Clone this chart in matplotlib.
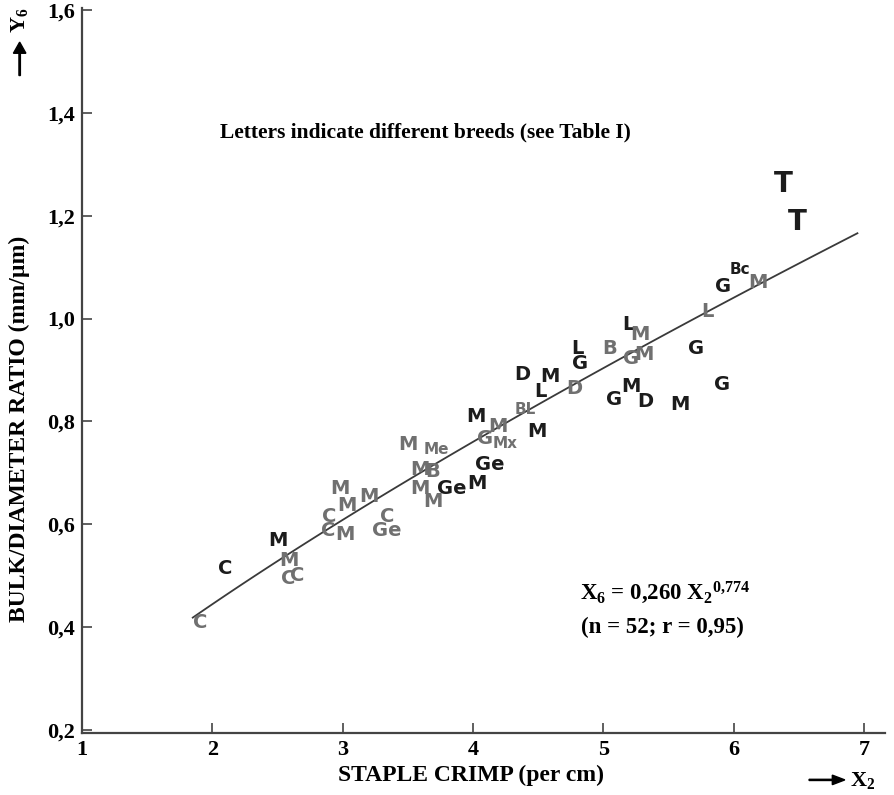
import numpy as np
import matplotlib
matplotlib.use("Agg")
import matplotlib.pyplot as plt

# breed letters: staple crimp (per cm) vs bulk/diameter ratio
labels = ["C", "C", "M", "M", "C", "C", "M", "M", "C", "C", "M", "M", "C", "Ge",
          "M", "Me", "M", "B", "M", "M", "Ge", "M", "Ge", "M", "G", "M", "Mx", "BL",
          "M", "D", "L", "M", "L", "G", "D", "B", "L", "M", "G", "M", "G", "M",
          "D", "M", "G", "G", "L", "G", "Bc", "M", "T", "T"]
crimp = [1.91, 2.10, 2.50, 2.59, 2.58, 2.65, 2.98, 3.03, 2.90, 2.89, 3.02, 3.20, 3.34, 3.34,
         3.50, 3.72, 3.59, 3.69, 3.59, 3.69, 3.84, 4.03, 4.13, 4.02, 4.09, 4.19, 4.25, 4.40,
         4.49, 4.38, 4.52, 4.59, 4.80, 4.82, 4.78, 5.05, 5.19, 5.28, 5.21, 5.31, 5.08, 5.21,
         5.32, 5.59, 5.71, 5.91, 5.80, 5.92, 6.05, 6.19, 6.38, 6.49]
ratio = [0.409, 0.514, 0.568, 0.529, 0.494, 0.500, 0.670, 0.636, 0.616, 0.587, 0.581, 0.655, 0.616, 0.587,
         0.756, 0.746, 0.707, 0.703, 0.669, 0.645, 0.669, 0.680, 0.717, 0.810, 0.767, 0.790, 0.758, 0.823,
         0.781, 0.891, 0.858, 0.887, 0.942, 0.912, 0.864, 0.942, 0.988, 0.969, 0.922, 0.930, 0.843, 0.868,
         0.839, 0.833, 0.942, 0.872, 1.013, 1.062, 1.095, 1.071, 1.261, 1.187]
# 1 = dark pen, 0 = grey pen
dark = [0, 1, 1, 0, 0, 0, 0, 0, 0, 0, 0, 0, 0, 0,
        0, 0, 0, 0, 0, 0, 1, 1, 1, 1, 0, 0, 0, 0,
        1, 1, 1, 1, 1, 1, 0, 0, 1, 0, 0, 0, 1, 1,
        1, 1, 1, 1, 0, 1, 1, 0, 1, 1]

# fitted power curve X6 = a * X2^b
fit_a = 0.260
fit_b = 0.774
fit_x_range = [1.85, 6.95]

x_ticks = [1, 2, 3, 4, 5, 6, 7]
y_ticks = [0.2, 0.4, 0.6, 0.8, 1.0, 1.2, 1.4, 1.6]
y_ticklabels = ["0,2", "0,4", "0,6", "0,8", "1,0", "1,2", "1,4", "1,6"]

serif = "Liberation Serif"
plt.rcParams["mathtext.fontset"] = "custom"
plt.rcParams["mathtext.rm"] = "Liberation Serif:bold"
plt.rcParams["mathtext.it"] = "Liberation Serif:bold"
plt.rcParams["mathtext.bf"] = "Liberation Serif:bold"
ink = "#1c1c1c"
grey = "#707070"

fig = plt.figure(figsize=(8.94, 7.95), dpi=100)
ax = fig.add_axes([0.0917, 0.0785, 0.898, 0.9115])

xs = np.linspace(fit_x_range[0], fit_x_range[1], 100)
ax.plot(xs, fit_a * xs ** fit_b, color="#3a3a3a", lw=1.3)

for lab, x, y, d in zip(labels, crimp, ratio, dark):
    size = 20 if lab == "T" else 14
    if lab in ("Bc", "Me", "Mx", "BL"):
        size = 11
    ax.text(x, y, lab, color=ink if d else grey, fontsize=size,
            fontweight="bold", ha="center", va="center",
            family="DejaVu Sans")

ax.set_xlim(1, 7.16)
ax.set_ylim(0.195, 1.604)
ax.set_xticks(x_ticks)
ax.set_yticks(y_ticks)
ax.set_yticklabels(y_ticklabels)
for spine in ["top", "right"]:
    ax.spines[spine].set_visible(False)
for spine in ["left", "bottom"]:
    ax.spines[spine].set_linewidth(1.6)
    ax.spines[spine].set_color("#444444")
ax.tick_params(direction="in", length=7, width=1.2, color="#444444",
               labelsize=16, pad=5)
for t in ax.get_xticklabels() + ax.get_yticklabels():
    t.set_family(serif)
    t.set_fontweight("bold")

ax.text(2.06, 1.362, "Letters indicate different breeds (see Table I)",
        family=serif, fontweight="bold", fontsize=15.5, va="center", ha="left")
ax.text(4.82, 0.467, r"X$_6$ = 0,260 X$_2$$^{0{,}774}$", family=serif,
        fontweight="bold", fontsize=16.5, va="center", ha="left")
ax.text(4.83, 0.399, "(n = 52; r = 0,95)", family=serif,
        fontweight="bold", fontsize=16.5, va="center", ha="left")

# axis titles set as free text to place the arrows like the print
fig.text(0.022, 0.46, "BULK/DIAMETER RATIO (mm/\u00b5m)", rotation=90,
         family=serif, fontweight="bold", fontsize=17, ha="center", va="center")
fig.text(0.527, 0.025, "STAPLE CRIMP (per cm)", family=serif,
         fontweight="bold", fontsize=17, ha="center", va="center")
fig.text(0.965, 0.018, r"X$_2$", family=serif, fontweight="bold",
         fontsize=16, ha="center", va="center")
fig.text(0.022, 0.975, r"Y$_6$", rotation=90, family=serif, fontweight="bold",
         fontsize=16, ha="center", va="center")
fig.patches.append(matplotlib.patches.FancyArrow(0.905, 0.019, 0.04, 0,
                   width=0.0015, head_width=0.012, head_length=0.014,
                   color="black", transform=fig.transFigure, length_includes_head=True))
fig.patches.append(matplotlib.patches.FancyArrow(0.022, 0.905, 0, 0.042,
                   width=0.0016, head_width=0.014, head_length=0.014,
                   color="black", transform=fig.transFigure, length_includes_head=True))

fig.savefig("out.png", dpi=100)
